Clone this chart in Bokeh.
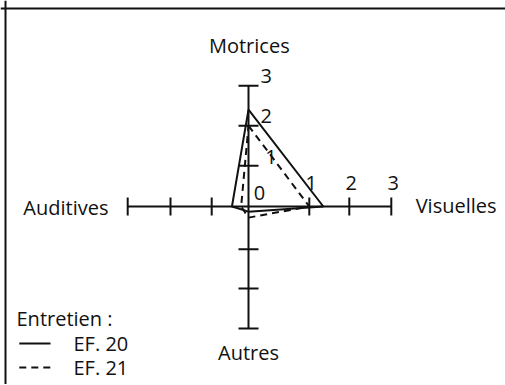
import numpy as np
from bokeh.plotting import figure
from bokeh.models import Range1d, Span
from bokeh.core.properties import value
from bokeh.embed import file_html
from bokeh.resources import INLINE

# ---- data ----
axes_names = ["Motrices", "Visuelles", "Autres", "Auditives"]
tick_values = [0, 1, 2, 3]
tick_labels = ["0", "1", "2", "3"]
series_names = ["EF. 20", "EF. 21"]
ef20 = [2.4, 1.35, 0.12, 0.45]
ef21 = [2.0, 1.0, 0.26, 0.2]
legend_title = "Entretien :"

# ---- layout (chart units: 1 unit = 40 px) ----
PX = 40.0
# radial position (chart units) of ticks 0..3 on each axis (hand-drawn, uneven)
tick_pos = {
    "Motrices": [0, 1.02, 2.02, 3.02],
    "Visuelles": [0, 1.52, 2.52, 3.57],
    "Autres": [0, 1.07, 2.05, 3.05],
    "Auditives": [0, 0.92, 1.95, 3.02],
}
direction = {"Motrices": (0, 1), "Visuelles": (1, 0), "Autres": (0, -1), "Auditives": (-1, 0)}

W, H = 505, 384
cx_px, cy_px = 248, 206
x0 = -cx_px / PX
x1 = (W - cx_px) / PX
y1 = cy_px / PX
y0 = -(H - cy_px) / PX

p = figure(width=W, height=H, output_backend="svg", toolbar_location=None,
           x_range=Range1d(x0, x1), y_range=Range1d(y0, y1), min_border=0)
p.axis.visible = False
p.grid.visible = False
p.outline_line_color = None
p.background_fill_color = "white"
p.border_fill_color = "white"

FONT = value("Open Sans")
FS = "20px"
INK = "#111111"

# frame (top and left)
p.add_layout(Span(location=y1 - 8 / PX, dimension="width", line_color=INK, line_width=2))
p.add_layout(Span(location=x0 + 5 / PX, dimension="height", line_color=INK, line_width=2))


def to_xy(name, v):
    r = np.interp(v, tick_values, tick_pos[name])
    dx, dy = direction[name]
    return dx * r, dy * r


# axes lines and ticks
tl = 10 / PX  # half tick length
for name in axes_names:
    ex, ey = to_xy(name, tick_values[-1])
    p.line([0, ex], [0, ey], line_color=INK, line_width=2)
    for t in tick_values[1:]:
        tx, ty = to_xy(name, t)
        if name in ("Motrices", "Autres"):
            p.line([tx - tl, tx + tl], [ty, ty], line_color=INK, line_width=2)
        else:
            p.line([tx, tx], [ty - 9 / PX, ty + 9 / PX], line_color=INK, line_width=2)

# tick labels on vertical (up) axis
up_offsets = [(0.13, 0.33), (0.42, 0.22), (0.3, 0.25), (0.3, 0.25)]
for t, lab, (ox, oy) in zip(tick_values, tick_labels, up_offsets):
    tx, ty = to_xy("Motrices", t)
    p.text([tx + ox], [ty + oy], text=[lab], text_font=FONT, text_font_size=FS,
           text_color=INK, text_align="left", text_baseline="middle")
# tick labels on right axis
for t, lab in zip(tick_values[1:], tick_labels[1:]):
    tx, ty = to_xy("Visuelles", t)
    p.text([tx + 0.05], [ty + 0.58], text=[lab], text_font=FONT, text_font_size=FS,
           text_color=INK, text_align="center", text_baseline="middle")

# axis names
name_pos = {
    "Motrices": (0.02, 4.03, "center"),
    "Visuelles": (4.18, 0.03, "left"),
    "Autres": (0.0, -3.65, "center"),
    "Auditives": (-3.5, -0.02, "right"),
}
for name in axes_names:
    x, y, al = name_pos[name]
    p.text([x], [y], text=[name], text_font=FONT, text_font_size=FS,
           text_color=INK, text_align=al, text_baseline="middle")

# series polygons
dashes = ["solid", "7 5"]
for vals, dash in zip([ef20, ef21], dashes):
    xs, ys = [], []
    for name, v in zip(axes_names, vals):
        x, y = to_xy(name, v)
        xs.append(x)
        ys.append(y)
    xs.append(xs[0])
    ys.append(ys[0])
    p.line(xs, ys, line_color=INK, line_width=2, line_dash=dash)

# legend
p.text([-5.8], [-2.8], text=[legend_title], text_font=FONT, text_font_size=FS,
       text_color=INK, text_align="left", text_baseline="middle")
leg_y = [-3.425, -4.025]
for name, dash, ly in zip(series_names, dashes, leg_y):
    p.line([-5.73, -4.95], [ly, ly], line_color=INK, line_width=2, line_dash=dash)
    p.text([-4.375], [ly], text=[name], text_font=FONT, text_font_size=FS,
           text_color=INK, text_align="left", text_baseline="middle")

open("out.html", "w").write(file_html(p, INLINE))
